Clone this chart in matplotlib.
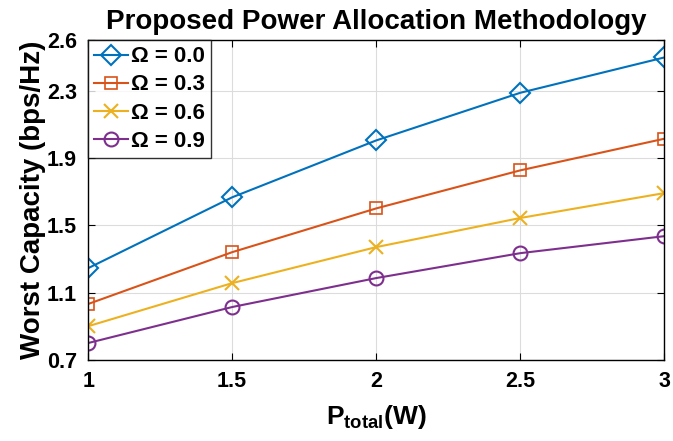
import matplotlib
matplotlib.use("Agg")
import matplotlib.pyplot as plt

plt.rcParams['font.family'] = ['Liberation Sans', 'DejaVu Sans']
plt.rcParams['font.weight'] = 'bold'
plt.rcParams['mathtext.fontset'] = 'custom'
plt.rcParams['mathtext.rm'] = 'Liberation Sans:bold'
plt.rcParams['mathtext.bf'] = 'Liberation Sans:bold'

# data
p_total = [1, 1.5, 2, 2.5, 3]
omega_00 = [1.245, 1.666, 2.004, 2.287, 2.497]
omega_03 = [1.032, 1.34, 1.60, 1.826, 2.014]
omega_06 = [0.90, 1.156, 1.37, 1.543, 1.691]
omega_09 = [0.80, 1.014, 1.186, 1.334, 1.435]
labels = ['Ω = 0.0', 'Ω = 0.3', 'Ω = 0.6', 'Ω = 0.9']
y_ticks = [0.7, 1.1, 1.5, 1.9, 2.3, 2.6]
x_ticks = [1, 1.5, 2, 2.5, 3]

fig = plt.figure(figsize=(6.73, 4.41), dpi=100)
ax = fig.add_axes([0.131, 0.184, 0.856, 0.725])

ax.plot(p_total, omega_00, color='#0072BD', marker='D', mfc='none', ms=10, mew=1.5, lw=1.5, label=labels[0])
ax.plot(p_total, omega_03, color='#D95319', marker='s', mfc='none', ms=9, mew=1.2, lw=1.5, label=labels[1])
ax.plot(p_total, omega_06, color='#EDB120', marker='x', ms=10, mew=1.5, lw=1.5, label=labels[2])
ax.plot(p_total, omega_09, color='#7E2F8E', marker='o', mfc='none', ms=10, mew=1.5, lw=1.5, label=labels[3])

ax.set_xlim(1, 3)
ax.set_ylim(0.7, 2.6)
ax.set_xticks(x_ticks)
ax.set_xticklabels(['1', '1.5', '2', '2.5', '3'])
ax.set_yticks(y_ticks)
ax.tick_params(direction='in', top=True, right=True, labelsize=15.5, length=5, pad=8)
for lab in ax.get_xticklabels() + ax.get_yticklabels():
    lab.set_fontweight('bold')
ax.grid(True, color='#dcdcdc', lw=0.8)
for s in ax.spines.values():
    s.set_linewidth(1.0)

ax.set_title('Proposed Power Allocation Methodology', fontsize=20, fontweight='bold', pad=8)
ax.set_ylabel('Worst Capacity (bps/Hz)', fontsize=20, fontweight='bold', labelpad=1)
ax.set_xlabel(r'$\mathrm{P_{total}(W)}$', fontsize=19, labelpad=8)

leg = ax.legend(loc='upper left', fontsize=16, frameon=True, fancybox=False, borderaxespad=0,
                handlelength=1.5, handletextpad=0.15, labelspacing=0.32, borderpad=0.28)
leg.get_frame().set_edgecolor('black')
leg.get_frame().set_linewidth(1.0)
for t in leg.get_texts():
    t.set_fontweight('bold')

fig.savefig('out.png', dpi=100)
